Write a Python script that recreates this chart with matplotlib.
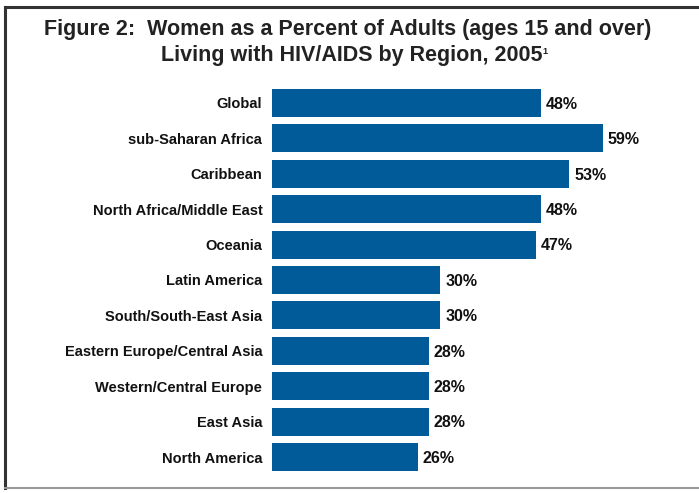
import matplotlib
matplotlib.use("Agg")
import matplotlib.pyplot as plt
from matplotlib.lines import Line2D

regions = ["Global", "sub-Saharan Africa", "Caribbean", "North Africa/Middle East",
           "Oceania", "Latin America", "South/South-East Asia",
           "Eastern Europe/Central Asia", "Western/Central Europe", "East Asia",
           "North America"]
values = [48, 59, 53, 48, 47, 30, 30, 28, 28, 28, 26]

title_line1 = "Figure 2:  Women as a Percent of Adults (ages 15 and over)"
title_line2 = "Living with HIV/AIDS by Region, 2005"
title_note = "1"

plt.rcParams['font.family'] = ['Liberation Sans', 'DejaVu Sans']
W, H = 699, 493
fig = plt.figure(figsize=(W/100, H/100), dpi=100)
fig.patch.set_facecolor('white')

left_px, right_px = 272, 690
px_per_unit = 5.61
ax = fig.add_axes([left_px/W, 0.0371, (right_px-left_px)/W, 0.790])
ypos = list(range(len(regions)))
ax.barh(ypos, values, height=0.79, color='#005B98')
ax.set_xlim(0, (right_px-left_px)/px_per_unit)
ax.set_ylim(len(regions)-0.5, -0.5)
ax.set_yticks(ypos)
ax.set_yticklabels(regions, fontsize=10.5, fontweight='bold', color='#111111')
ax.tick_params(axis='y', length=0, pad=7)
ax.set_xticks([])
for s in ax.spines.values():
    s.set_visible(False)
for y, v in zip(ypos, values):
    ax.annotate(f"{v}%", (v, y), xytext=(3.5, -1), textcoords='offset points',
                ha='left', va='center', fontsize=11.5, fontweight='bold', color='#111111')

fig.text(348/W, 1-30/H, title_line1, ha='center', va='center', fontsize=15.5,
         fontweight='bold', color='#222222')
t2 = fig.text(352/W, 1-55/H, title_line2, ha='center', va='center', fontsize=15.5,
              fontweight='bold', color='#222222')
fig.canvas.draw()
bb = t2.get_window_extent()
fig.text((bb.x1 - 0.5)/W, (bb.y1 - 2)/H, title_note, ha='left', va='top', fontsize=6.5,
         fontweight='bold', color='#222222')

# frame
fig.add_artist(Line2D([5/W, 5/W], [1-7/H, 1-488/H], transform=fig.transFigure,
                      color='#333333', lw=2.2))
fig.add_artist(Line2D([5/W, 1], [1-7/H, 1-7/H], transform=fig.transFigure,
                      color='#333333', lw=2.2))
fig.add_artist(Line2D([5/W, 1], [1-488/H, 1-488/H], transform=fig.transFigure,
                      color='#999999', lw=1.5))

fig.savefig("out.png", dpi=100)
